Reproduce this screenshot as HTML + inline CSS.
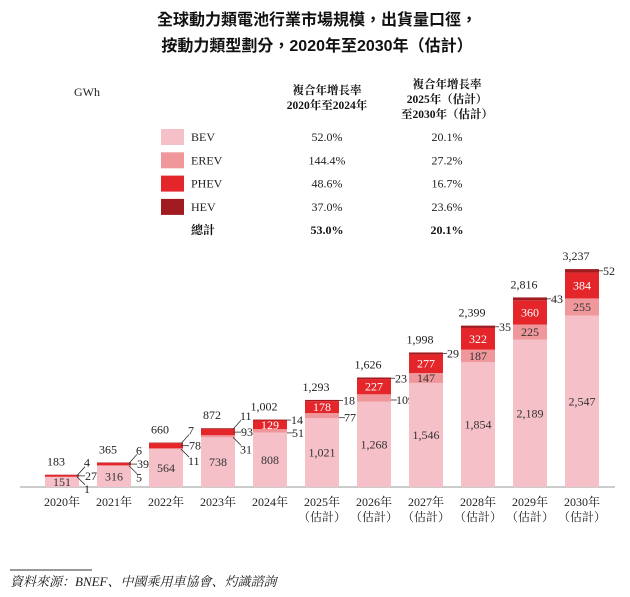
<!DOCTYPE html>
<html><head><meta charset="utf-8"><style>
body{margin:0;background:#fff;}
svg{display:block;font-family:"Liberation Serif","Noto Serif CJK SC","Noto Sans CJK TC",serif;}
</style></head><body>
<svg id="c" width="630" height="597" viewBox="0 0 630 597" xmlns="http://www.w3.org/2000/svg">
<g font-family="'Liberation Sans','Noto Sans CJK TC',sans-serif" font-weight="bold" font-size="16" text-anchor="middle" fill="#111">
<text x="317" y="25">全球動力類電池行業市場規模，出貨量口徑，</text>
<text x="317" y="51">按動力類型劃分，2020年至2030年（估計）</text>
</g>
<text x="74" y="96" font-size="12" fill="#222">GWh</text>
<g font-size="11.5" font-weight="bold" text-anchor="middle" fill="#111">
<text x="327" y="94">複合年增長率</text><text x="327" y="109">2020年至2024年</text>
<text x="447" y="88">複合年增長率</text><text x="447" y="103">2025年（估計）</text><text x="447" y="118">至2030年（估計）</text>
</g>
<g id="legend"></g>
<line x1="20" y1="487" x2="615" y2="487" stroke="#999" stroke-width="1"/>
<g id="bars"></g>
<line x1="10" y1="570" x2="92" y2="570" stroke="#333" stroke-width="1"/>
<text x="10" y="586" font-size="13" font-style="italic" fill="#222">資料來源：BNEF、中國乘用車協會、灼識諮詢</text>
</svg>
<script>
const years=["2020年","2021年","2022年","2023年","2024年","2025年","2026年","2027年","2028年","2029年","2030年"];
const estimated=[false,false,false,false,false,true,true,true,true,true,true];
const bev=[151,316,564,738,808,1021,1268,1546,1854,2189,2547];
const erev=[1,5,11,31,51,77,109,147,187,225,255];
const phev=[27,39,78,93,129,178,227,277,322,360,384];
const hev=[4,6,7,11,14,18,23,29,35,43,52];
const totals=["183","365","660","872","1,002","1,293","1,626","1,998","2,399","2,816","3,237"];
const seriesNames=["BEV","EREV","PHEV","HEV"];
const cagr1=["52.0%","144.4%","48.6%","37.0%"];
const cagr2=["20.1%","27.2%","16.7%","23.6%"];
const totalCagr=["53.0%","20.1%"];
const colors=["#f6c0c9","#ef979b","#e4262b","#a01c21"];
const NS="http://www.w3.org/2000/svg";
function mk(t,a,p){const e=document.createElementNS(NS,t);for(const k in a)e.setAttribute(k,a[k]);p.appendChild(e);return e;}
function fmt(v){return v.toLocaleString("en-US");}
const base=487,scale=0.0673;
function y(v){return base-v*scale;}
function xc(i){return 62+52*i;}
const bw=34;
const lg=document.getElementById("legend");
seriesNames.forEach((n,k)=>{
  const yy=137+23.3*k;
  const r=mk("rect",{x:161,y:yy-8,width:23,height:16,fill:colors[k]},lg);
  
  
  const t=mk("text",{x:191,y:yy+4,"font-size":12,fill:"#222"},lg);t.textContent=n;
  
  
  const a=mk("text",{x:327,y:yy+4,"font-size":12,"text-anchor":"middle",fill:"#222"},lg);a.textContent=cagr1[k];
  
  
  const b=mk("text",{x:447,y:yy+4,"font-size":12,"text-anchor":"middle",fill:"#222"},lg);b.textContent=cagr2[k];
  
  
});
{const yy=137+23.3*4;
 const t=mk("text",{x:191,y:yy+4,"font-size":12,"font-weight":"bold",fill:"#111"},lg);t.textContent="總計";
 
 const a=mk("text",{x:327,y:yy+4,"font-size":12,"font-weight":"bold","text-anchor":"middle",fill:"#111"},lg);a.textContent=totalCagr[0];
 
 const b=mk("text",{x:447,y:yy+4,"font-size":12,"font-weight":"bold","text-anchor":"middle",fill:"#111"},lg);b.textContent=totalCagr[1];
 }
const g=document.getElementById("bars");
function lbl(x,yy,txt,anchor,fill,name){const t=mk("text",{x:x,y:yy,"font-size":12,"text-anchor":anchor,fill:fill},g);t.textContent=txt;
  return t;}
function ln(x1,y1,x2,y2){const l=mk("line",{x1:x1,y1:y1,x2:x2,y2:y2,stroke:"#333","stroke-width":0.8},g);
  }
years.forEach((yr,i)=>{
  const vals=[bev[i],erev[i],phev[i],hev[i]];
  let cum=0;const x0=xc(i)-bw/2;const ys=[];
  vals.forEach((v,k)=>{
    const y1=y(cum),y2=y(cum+v);ys.push([y2,y1]);
    const r=mk("rect",{x:x0,y:y2,width:bw,height:Math.max(0,y1-y2),fill:colors[k]},g);
    
    
    cum+=v;
  });
  const top=y(cum);
  lbl(xc(i),(ys[0][0]+ys[0][1])/2+4,fmt(bev[i]),"middle","#333","value-bev-"+i);
  lbl(xc(i)-6,top-9,totals[i],"middle","#222","total-"+i);
  const xr=xc(i)+bw/2;
  if(i<=3){
    ln(xr-2,top+1,xr+6,top-8);lbl(xr+5,top-8,fmt(hev[i]),"start","#222","value-hev-"+i);
    ln(xr-2,(ys[2][0]+ys[2][1])/2,xr+6,(ys[2][0]+ys[2][1])/2);lbl(xr+6,(ys[2][0]+ys[2][1])/2+4,fmt(phev[i]),"start","#222","value-phev-"+i);
    const ey=ys[1][1];ln(xr-2,ey,xr+6,ey+8);lbl(xr+5,ey+16,fmt(erev[i]),"start","#222","value-erev-"+i);
  } else {
    const hy=(ys[3][0]+ys[3][1])/2;ln(xr,hy,xr+4,hy);lbl(xr+4,hy+4,fmt(hev[i]),"start","#222","value-hev-"+i);
    lbl(xc(i),(ys[2][0]+ys[2][1])/2+4,fmt(phev[i]),"middle","#fff","value-phev-"+i);
    const emy=(ys[1][0]+ys[1][1])/2;
    if(i<=6){ln(xr,emy+2,xr+6,emy+2);lbl(xr+5,emy+6,fmt(erev[i]),"start","#222","value-erev-"+i);}
    else lbl(xc(i),emy+4,fmt(erev[i]),"middle","#333","value-erev-"+i);
  }
  const t=mk("text",{x:xc(i),y:506,"font-size":12,"text-anchor":"middle",fill:"#222"},g);t.textContent=yr;
  
  if(estimated[i]){const t2=mk("text",{x:xc(i),y:521,"font-size":12,"text-anchor":"middle",fill:"#222"},g);t2.textContent="（估計）";
  }
});
</script>
</body></html>
